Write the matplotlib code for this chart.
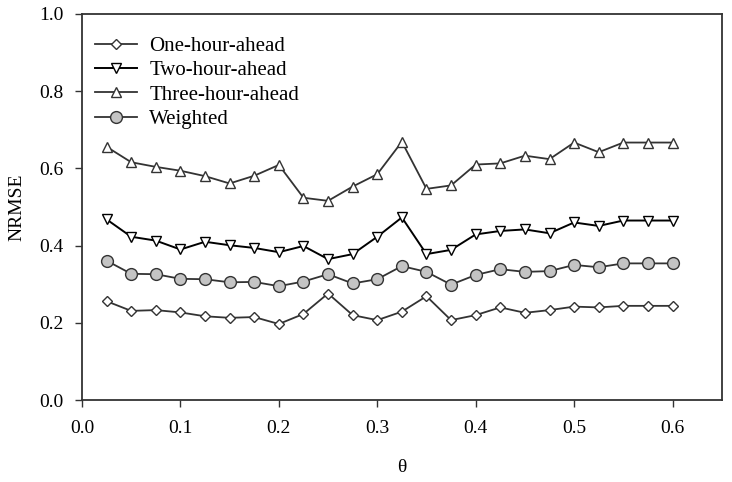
import matplotlib
matplotlib.use("Agg")
from matplotlib import pyplot as plt

theta = [0.025, 0.05, 0.075, 0.1, 0.125, 0.15, 0.175, 0.2, 0.225, 0.25, 0.275, 0.3,
         0.325, 0.35, 0.375, 0.4, 0.425, 0.45, 0.475, 0.5, 0.525, 0.55, 0.575, 0.6]

one_hour = [0.256, 0.231, 0.233, 0.227, 0.217, 0.213, 0.215, 0.197, 0.223, 0.276, 0.220, 0.207,
            0.229, 0.269, 0.207, 0.220, 0.240, 0.226, 0.233, 0.242, 0.240, 0.244, 0.244, 0.244]
two_hour = [0.468, 0.423, 0.413, 0.390, 0.410, 0.401, 0.394, 0.383, 0.399, 0.365, 0.378, 0.423,
            0.473, 0.378, 0.389, 0.429, 0.438, 0.442, 0.432, 0.460, 0.451, 0.465, 0.465, 0.465]
three_hour = [0.656, 0.616, 0.604, 0.594, 0.580, 0.561, 0.581, 0.609, 0.524, 0.516, 0.553, 0.585,
              0.669, 0.547, 0.556, 0.610, 0.613, 0.633, 0.624, 0.667, 0.642, 0.667, 0.667, 0.667]
weighted = [0.361, 0.327, 0.326, 0.314, 0.313, 0.305, 0.306, 0.295, 0.307, 0.326, 0.302, 0.313,
            0.347, 0.332, 0.299, 0.324, 0.339, 0.332, 0.334, 0.350, 0.344, 0.354, 0.354, 0.354]

plt.rcParams['font.family'] = ['Liberation Serif', 'DejaVu Serif']

fig = plt.figure(figsize=(7.32, 4.82), dpi=100)
ax = fig.add_axes([0.112, 0.170, 0.874, 0.801])

line_kw = dict(color='#333333', linewidth=1.3, markeredgecolor='#333333', markeredgewidth=1.0)
ax.plot(theta, one_hour, marker='D', markersize=5, markerfacecolor='white',
        label='One-hour-ahead', **line_kw)
ax.plot(theta, two_hour, marker='v', markersize=6.5, markerfacecolor='white',
        label='Two-hour-ahead', color='black', linewidth=1.4,
        markeredgecolor='black', markeredgewidth=1.0)
ax.plot(theta, three_hour, marker='^', markersize=6.5, markerfacecolor='white',
        label='Three-hour-ahead', **line_kw)
ax.plot(theta, weighted, marker='o', markersize=8.5, markerfacecolor='#c4c4c4',
        label='Weighted', **line_kw)

ax.set_xlim(0, 0.65)
ax.set_ylim(0, 1.0)
ax.set_xticks([0.0, 0.1, 0.2, 0.3, 0.4, 0.5, 0.6])
ax.set_yticks([0.0, 0.2, 0.4, 0.6, 0.8, 1.0])
ax.xaxis.set_major_formatter(matplotlib.ticker.FormatStrFormatter('%.1f'))
ax.yaxis.set_major_formatter(matplotlib.ticker.FormatStrFormatter('%.1f'))
ax.tick_params(direction='out', length=5, width=1.0, labelsize=14, color='#333333')
ax.tick_params(axis='x', pad=9)
ax.tick_params(axis='y', pad=8)
for s in ax.spines.values():
    s.set_linewidth(1.3)
    s.set_color('#333333')

ax.set_xlabel('θ', fontsize=14, labelpad=16)
ax.set_ylabel('NRMSE', fontsize=14, labelpad=10)

ax.legend(loc='upper left', frameon=False, fontsize=15, handlelength=2.0,
          handletextpad=0.6, labelspacing=0.22, borderaxespad=0.6,
          bbox_to_anchor=(-0.012, 0.995))

fig.savefig('out.png', dpi=100)
